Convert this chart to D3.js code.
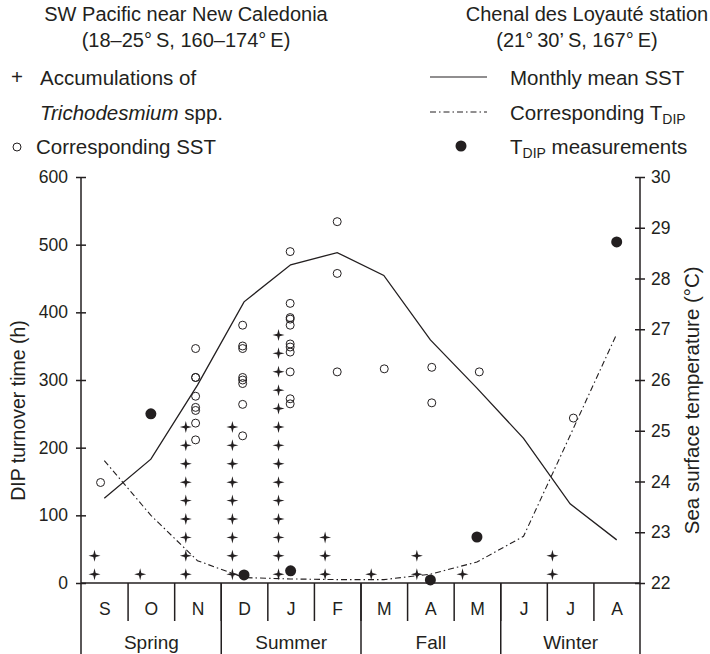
<!DOCTYPE html>
<html>
<head>
<meta charset="utf-8">
<script src="https://cdn.jsdelivr.net/npm/d3@7"></script>
<style>
  html, body { margin: 0; padding: 0; background: #fff; }
  svg { display: block; font-family: "Liberation Sans", Arial, Helvetica, sans-serif; }
</style>
</head>
<body>
<svg id="chart"></svg>
<script>
// months run September -> August, index 0..11
const months = ["S", "O", "N", "D", "J", "F", "M", "A", "M", "J", "J", "A"]
const seasons = ["Spring", "Summer", "Fall", "Winter"]
const dipTicks = [0, 100, 200, 300, 400, 500, 600]
const sstTicks = [22, 23, 24, 25, 26, 27, 28, 29, 30]

// Chenal des Loyauté station
const meanSST = [23.67, 24.44, 25.9, 27.54, 28.27, 28.51, 28.06, 26.79, 25.84, 24.85, 23.56, 22.85]
const tdipCurve = [181, 100, 33, 8, 6, 5, 5, 13, 31, 69, 218, 368]
const tdipObsMonth = [1.5, 3.5, 4.5, 7.5, 8.5, 11.5]
const tdipObs = [250, 12, 18, 4.5, 68, 504]

// SW Pacific: Trichodesmium accumulations (stacked count per sampling date)
const trichoMonth = [0.29, 1.27, 2.25, 3.25, 4.24, 5.24, 6.23, 7.21, 8.19, 10.12]
const trichoCount = [2, 1, 9, 9, 14, 3, 1, 2, 1, 2]

// corresponding SST for the accumulations
const sstObsMonth = [0.42, 2.46, 3.47, 4.49, 5.5, 6.51, 7.53, 8.55, 10.57]
const sstObs = [
  [23.98],
  [26.62, 26.05, 26.05, 25.68, 25.46, 25.40, 25.15, 24.82],
  [27.08, 26.67, 26.62, 26.05, 26.0, 25.93, 25.52, 24.9],
  [28.53, 27.51, 27.23, 27.20, 27.08, 26.71, 26.65, 26.55, 26.16, 25.63, 25.53],
  [29.12, 28.10, 26.16],
  [26.22],
  [26.25, 25.55],
  [26.16],
  [25.25]
]

const width = 710
const height = 654
const ink = "#231f20"
const tickFont = 17.5
const labelFont = 20

const svg = d3.select("#chart")
  .attr("width", width)
  .attr("height", height)
  .style("font-size", labelFont + "px")
  .style("fill", ink)

// Scales
const x = d3.scaleLinear().domain([0, 12]).range([81, 640])
const yDip = d3.scaleLinear().domain([0, 600]).range([583, 177])
const ySst = d3.scaleLinear().domain([22, 30]).range([583, 177])

// Titles
const titles = [
  { x: 186, y: 21, text: "SW Pacific near New Caledonia" },
  { x: 186, y: 47, text: "(18–25°\u2009S, 160–174°\u2009E)" },
  { x: 587, y: 21, text: "Chenal des Loyauté station" },
  { x: 577, y: 47, text: "(21°\u200930’\u2009S, 167°\u2009E)" }
]
svg.selectAll(".title")
  .data(titles)
  .enter().append("text")
  .attr("class", "title")
  .attr("x", d => d.x)
  .attr("y", d => d.y)
  .attr("text-anchor", "middle")
  .text(d => d.text)

// Left legend
const legL = svg.append("g").style("font-size", "20.5px")
legL.append("text").attr("x", 17).attr("y", 84).attr("text-anchor", "middle").text("+")
legL.append("text").attr("x", 40).attr("y", 84.5).text("Accumulations of")
const tri = legL.append("text").attr("x", 40).attr("y", 119.5)
tri.append("tspan").style("font-style", "italic").text("Trichodesmium")
tri.append("tspan").text(" spp.")
legL.append("circle").attr("cx", 17).attr("cy", 147).attr("r", 4)
  .style("fill", "none").style("stroke", ink).style("stroke-width", 1)
legL.append("text").attr("x", 36).attr("y", 153.5).text("Corresponding SST")

// Right legend
const legR = svg.append("g").style("font-size", "20.5px")
legR.append("line").attr("x1", 430).attr("x2", 487).attr("y1", 77).attr("y2", 77)
  .style("stroke", ink).style("stroke-width", 1.2)
legR.append("text").attr("x", 510).attr("y", 84.5).text("Monthly mean SST")
legR.append("line").attr("x1", 430).attr("x2", 487).attr("y1", 112).attr("y2", 112)
  .style("stroke", ink).style("stroke-width", 1).style("stroke-dasharray", "6,3,1.5,3")
const corr = legR.append("text").attr("x", 510).attr("y", 119.5)
corr.append("tspan").text("Corresponding T")
corr.append("tspan").attr("dy", 4).style("font-size", "14px").text("DIP")
legR.append("circle").attr("cx", 461).attr("cy", 146).attr("r", 5.5).style("fill", ink)
const meas = legR.append("text").attr("x", 510).attr("y", 153.5)
meas.append("tspan").text("T")
meas.append("tspan").attr("dy", 4).style("font-size", "14px").text("DIP")
meas.append("tspan").attr("dy", -4).text(" measurements")

// Axis lines (both run down to the bottom of the season strip)
svg.append("line").attr("x1", x(0)).attr("x2", x(0)).attr("y1", yDip(600)).attr("y2", height)
  .style("stroke", ink).style("stroke-width", 1.5)
svg.append("line").attr("x1", x(12)).attr("x2", x(12)).attr("y1", ySst(30)).attr("y2", height)
  .style("stroke", ink).style("stroke-width", 1.5)
svg.append("line").attr("x1", x(0)).attr("x2", x(12)).attr("y1", yDip(0)).attr("y2", yDip(0))
  .style("stroke", ink).style("stroke-width", 1.5)

function styleTicks(g) {
  g.select(".domain").remove()
  g.selectAll(".tick line").style("stroke", ink).style("stroke-width", 1.5)
  g.selectAll(".tick text").style("fill", ink).style("font-family", "inherit")
}

// Left axis
const leftAxis = svg.append("g")
  .attr("transform", `translate(${x(0)},0)`)
  .call(d3.axisLeft(yDip).tickValues(dipTicks).tickSizeInner(5).tickSizeOuter(0).tickPadding(8))
  .call(styleTicks)
leftAxis.selectAll(".tick line").attr("x1", 5)
leftAxis.selectAll(".tick text").style("font-size", tickFont + "px")

// Right axis
const rightAxis = svg.append("g")
  .attr("transform", `translate(${x(12)},0)`)
  .call(d3.axisRight(ySst).tickValues(sstTicks).tickSizeInner(5).tickSizeOuter(0).tickPadding(6))
  .call(styleTicks)
rightAxis.selectAll(".tick line").attr("x1", -5)
rightAxis.selectAll(".tick text").style("font-size", tickFont + "px")

// Month boundaries + labels
svg.append("g")
  .attr("transform", `translate(0,${yDip(0)})`)
  .call(d3.axisBottom(x).tickValues(d3.range(1, 12)).tickSize(38).tickFormat(""))
  .call(styleTicks)

svg.append("g")
  .attr("transform", `translate(0,${yDip(0)})`)
  .call(d3.axisBottom(x).tickValues([3, 6, 9]).tickSize(height - yDip(0)).tickFormat(""))
  .call(styleTicks)

svg.append("g")
  .attr("transform", `translate(0,${yDip(0)})`)
  .call(d3.axisBottom(x).tickValues(d3.range(12).map(i => i + 0.5)).tickSize(0)
    .tickFormat((d, i) => months[i]))
  .call(styleTicks)
  .selectAll(".tick text")
  .attr("y", 32).attr("dy", null)
  .style("font-size", tickFont + "px")

const seasonLabels = svg.append("g")
  .attr("transform", `translate(0,${yDip(0)})`)
  .call(d3.axisBottom(x).tickValues(d3.range(4).map(i => i * 3 + 1.5)).tickSize(0)
    .tickFormat((d, i) => seasons[i]))
  .call(styleTicks)
seasonLabels.selectAll(".tick text")
  .attr("y", 66).attr("dy", null)
  .style("font-size", "19px")

// Axis titles
svg.append("text")
  .attr("transform", `translate(25,${yDip(255)}) rotate(-90)`)
  .attr("text-anchor", "middle")
  .style("font-size", "19.5px")
  .text("DIP turnover time (h)")
svg.append("text")
  .attr("transform", `translate(699,${ySst(25.6)}) rotate(-90)`)
  .attr("text-anchor", "middle")
  .style("font-size", "20.5px")
  .text("Sea surface temperature (°C)")

// Monthly mean SST
const sstLine = d3.line()
  .x((d, i) => x(i + 0.5))
  .y(d => ySst(d))
svg.append("path")
  .datum(meanSST)
  .attr("d", sstLine)
  .style("fill", "none")
  .style("stroke", ink)
  .style("stroke-width", 1.3)

// Corresponding T_DIP
const tdipLine = d3.line()
  .x((d, i) => x(i + 0.5))
  .y(d => yDip(d))
svg.append("path")
  .datum(tdipCurve)
  .attr("d", tdipLine)
  .style("fill", "none")
  .style("stroke", ink)
  .style("stroke-width", 1.1)
  .style("stroke-dasharray", "6,3,1.5,3")

// Corresponding SST (open circles)
const sstPoints = sstObs.flatMap((vals, i) => vals.map(v => ({ m: sstObsMonth[i], v })))
svg.selectAll(".sst-dot")
  .data(sstPoints)
  .enter().append("circle")
  .attr("class", "sst-dot")
  .attr("cx", d => x(d.m))
  .attr("cy", d => ySst(d.v))
  .attr("r", 4)
  .style("fill", "none")
  .style("stroke", ink)
  .style("stroke-width", 1)

// Trichodesmium crosses, stacked in DIP units from the baseline
const stackBase = 13
const stackStep = 27.2
const crossShape = {
  draw(ctx, size) {
    const r = Math.sqrt(size)
    const w = r * 0.2
    ctx.moveTo(0, -r)
    ctx.lineTo(w, -w)
    ctx.lineTo(r, 0)
    ctx.lineTo(w, w)
    ctx.lineTo(0, r)
    ctx.lineTo(-w, w)
    ctx.lineTo(-r, 0)
    ctx.lineTo(-w, -w)
    ctx.closePath()
  }
}
const crosses = trichoCount.flatMap((n, i) => d3.range(n).map(k => ({ m: trichoMonth[i], k })))
svg.selectAll(".cross")
  .data(crosses)
  .enter().append("path")
  .attr("class", "cross")
  .attr("transform", d => `translate(${x(d.m)},${yDip(stackBase + d.k * stackStep)})`)
  .attr("d", d3.symbol().type(crossShape).size(36))
  .style("fill", ink)

// T_DIP measurements
svg.selectAll(".tdip-dot")
  .data(tdipObs)
  .enter().append("circle")
  .attr("class", "tdip-dot")
  .attr("cx", (d, i) => x(tdipObsMonth[i]))
  .attr("cy", d => yDip(d))
  .attr("r", 5.5)
  .style("fill", ink)
</script>
</body>
</html>
